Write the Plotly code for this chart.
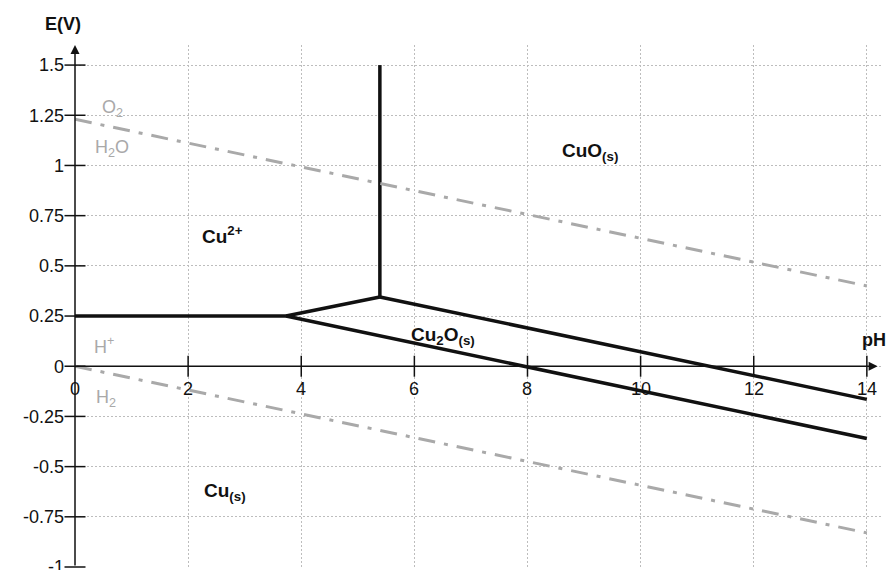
import plotly.graph_objects as go

# boundary lines of the Pourbaix diagram (pH, E in V)
ph_cu2_cu = [0, 3.73]
e_cu2_cu = [0.25, 0.25]
ph_cu2_cu2o = [3.73, 5.39]
e_cu2_cu2o = [0.25, 0.345]
ph_cu2_cuo = [5.39, 5.39]
e_cu2_cuo = [0.345, 1.5]
ph_cuo_cu2o = [5.39, 14]
e_cuo_cu2o = [0.345, -0.165]
ph_cu2o_cu = [3.73, 14]
e_cu2o_cu = [0.25, -0.36]

ph_water = [0, 14]
e_o2_h2o = [1.23, 0.40]
e_h_h2 = [0.0, -0.83]

x_ticks = [0, 2, 4, 6, 8, 10, 12, 14]
x_tick_text = ["0", "2", "4", "6", "8", "10", "12", "14"]
y_ticks = [1.5, 1.25, 1, 0.75, 0.5, 0.25, 0, -0.25, -0.5, -0.75, -1]
y_tick_text = ["1.5", "1.25", "1", "0.75", "0.5", "0.25", "0", "-0.25", "-0.5", "-0.75", "-1"]

FONT = "Liberation Sans, Arial, sans-serif"
GRAY = "#a9a9a9"
BLACK = "#111111"

fig = go.Figure()

for xs, ys in [
    (ph_cu2_cu, e_cu2_cu),
    (ph_cu2_cu2o, e_cu2_cu2o),
    (ph_cu2_cuo, e_cu2_cuo),
    (ph_cuo_cu2o, e_cuo_cu2o),
    (ph_cu2o_cu, e_cu2o_cu),
]:
    fig.add_trace(go.Scatter(x=xs, y=ys, mode="lines",
                             line=dict(color=BLACK, width=3.5),
                             showlegend=False, hoverinfo="skip"))

for ys in [e_o2_h2o, e_h_h2]:
    fig.add_trace(go.Scatter(x=ph_water, y=ys, mode="lines",
                             line=dict(color=GRAY, width=3, dash="17px,9px,4px,9px"),
                             showlegend=False, hoverinfo="skip"))

# tick marks crossing the axes
fig.add_trace(go.Scatter(x=x_ticks[1:], y=[0] * (len(x_ticks) - 1), mode="markers",
                         marker=dict(symbol="line-ns", size=15, line=dict(color=BLACK, width=1.5)),
                         showlegend=False, hoverinfo="skip", cliponaxis=False))
fig.add_trace(go.Scatter(x=[0] * len(y_ticks), y=y_ticks, mode="markers",
                         marker=dict(symbol="line-ew", size=15, line=dict(color=BLACK, width=1.5)),
                         showlegend=False, hoverinfo="skip", cliponaxis=False))

# axis lines with arrow heads
fig.add_annotation(x=0, y=1.6, ax=0, ay=-1, xref="x", yref="y", axref="x", ayref="y",
                   showarrow=True, arrowhead=2, arrowsize=1.2, arrowwidth=1.5,
                   arrowcolor=BLACK, text="")
fig.add_annotation(x=14.19, y=0, ax=0, ay=0, xref="x", yref="y", axref="x", ayref="y",
                   showarrow=True, arrowhead=2, arrowsize=1.2, arrowwidth=1.5,
                   arrowcolor=BLACK, text="")

for xv, label in zip(x_ticks, x_tick_text):
    fig.add_annotation(x=xv, y=0, text=label, showarrow=False, yanchor="top", yshift=-11,
                       font=dict(family=FONT, size=18, color=BLACK))

fig.add_annotation(x=0, y=1.6, text="<b>E(V)</b>", showarrow=False, yanchor="bottom",
                   xshift=-12, yshift=9, font=dict(family=FONT, size=18, color=BLACK))
# kept inside the x range (annotations beyond it are hidden)
fig.add_annotation(x=14.2, y=0.13, text="<b>pH</b>", showarrow=False, xshift=-4,
                   font=dict(family=FONT, size=18, color=BLACK))

bold_labels = [
    (2.6, 0.655, "Cu<sup>2+</sup>"),
    (9.1, 1.065, "CuO<sub>(s)</sub>"),
    (6.5, 0.15, "Cu<sub>2</sub>O<sub>(s)</sub>"),
    (2.65, -0.625, "Cu<sub>(s)</sub>"),
]
for xv, yv, label in bold_labels:
    fig.add_annotation(x=xv, y=yv, text="<b>" + label + "</b>", showarrow=False,
                       font=dict(family=FONT, size=19, color=BLACK))

gray_labels = [
    (0.67, 1.285, "O<sub>2</sub>"),
    (0.65, 1.085, "H<sub>2</sub>O"),
    (0.51, 0.105, "H<sup>+</sup>"),
    (0.55, -0.16, "H<sub>2</sub>"),
]
for xv, yv, label in gray_labels:
    fig.add_annotation(x=xv, y=yv, text=label, showarrow=False,
                       font=dict(family=FONT, size=18, color=GRAY))

# the page body adds 8px around the figure, so margins are reduced by that
fig.update_layout(
    width=896, height=570,
    margin=dict(l=67, r=23, t=37, b=11, autoexpand=False),
    paper_bgcolor="white", plot_bgcolor="white",
    showlegend=False,
    font=dict(family=FONT, size=18, color=BLACK),
)
fig.update_xaxes(range=[0, 14.25], showticklabels=False, ticks="", automargin=False,
                 tickvals=x_ticks[1:], showgrid=True, gridcolor="#bdbdbd",
                 griddash="2px,2px", gridwidth=1, zeroline=False, showline=False)
fig.update_yaxes(range=[-1, 1.6], tickvals=y_ticks, ticktext=y_tick_text, ticks="",
                 automargin=False, ticklabelstandoff=10, showgrid=True, gridcolor="#bdbdbd",
                 griddash="2px,2px", gridwidth=1, zeroline=False, showline=False,
                 tickfont=dict(family=FONT, size=18, color=BLACK))

fig.write_html("out.html")
